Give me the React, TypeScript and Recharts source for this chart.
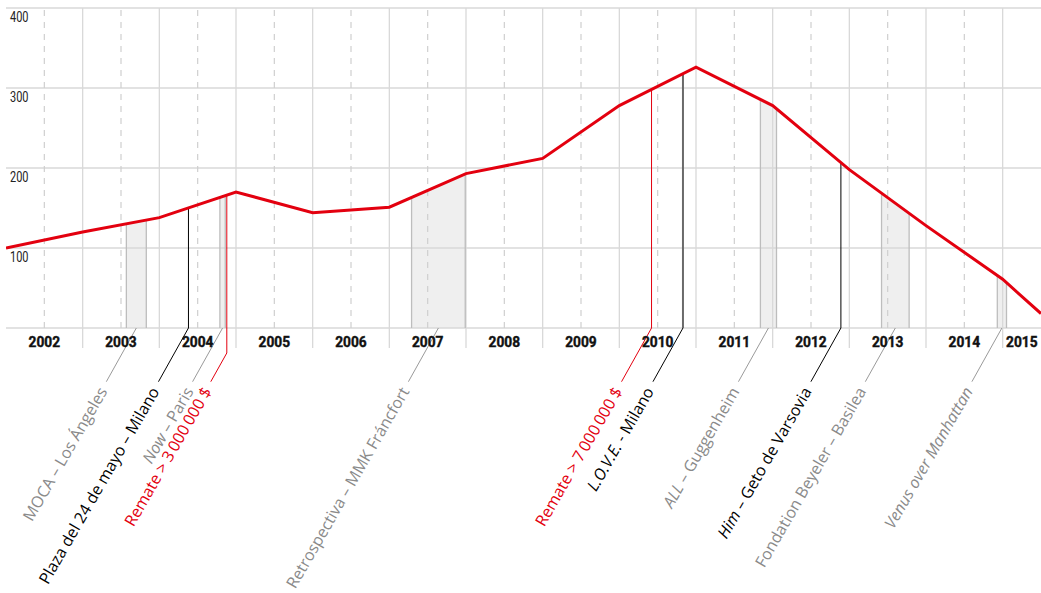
import React from 'react';
import { ComposedChart, Line, Area, XAxis, YAxis, ReferenceLine, ReferenceDot } from 'recharts';

// ---- Data ----
const LINE_YEARS = [2002, 2003, 2004, 2005, 2006, 2007, 2008, 2009, 2010, 2011, 2012, 2013, 2014, 2015, 2015.5];
const LINE_VALUES = [100, 120, 138, 170, 144, 151, 193, 212, 278, 326, 278, 198, 128, 61, 18];

const YEAR_LABELS = ['2002', '2003', '2004', '2005', '2006', '2007', '2008', '2009', '2010', '2011', '2012', '2013', '2014', '2015'];
const Y_TICKS = [100, 200, 300, 400];
const GRID_VALUES = [0, 100, 200, 300, 400];

// exhibitions (periods, shaded)
const EXHIBITION_ITALIC = ['', 'Now', '', 'ALL', '', 'Venus over Manhattan'];
const EXHIBITION_REST = ['MOCA – Los Ángeles', ' – Paris', 'Retrospectiva – MMK Fráncfort', ' – Guggenheim', 'Fondation Beyeler – Basilea', ''];
const EXHIBITION_START = [2003.57, 2004.79, 2007.29, 2011.84, 2013.42, 2014.93];
const EXHIBITION_END = [2003.83, 2004.86, 2007.99, 2012.05, 2013.78, 2015.05];

// single events (black lines)
const EVENT_ITALIC = ['', 'L.O.V.E.', 'Him'];
const EVENT_REST = ['Plaza del 24 de mayo – Milano', ' - Milano', ' – Geto de Varsovia'];
const EVENT_DATES = [2004.38, 2010.83, 2012.89];

// auctions (red lines)
const AUCTION_NAMES = ['Remate > 3\u2009000\u2009000 $', 'Remate > 7\u2009000\u2009000 $'];
const AUCTION_DATES = [2004.88, 2010.42];

// ---- Styles ----
const RED = '#e3000f';
const GRAY_TEXT = '#8a8a8a';
const GRID = '#d9d9d9';
const LABEL_FONT = "'Open Sans', 'Noto Sans', sans-serif";
const AXIS_FONT = "Roboto, 'Liberation Sans', sans-serif";
const DOMAIN_START = 2002;
const DOMAIN_END = 2015.5;
const LEADER_DX = 30;
const LEADER_DY = 53.7;

const lineData = LINE_YEARS.map((x, i) => ({ x, v: LINE_VALUES[i] }));

function lineValueAt(x: number): number {
  for (let i = 0; i < LINE_YEARS.length - 1; i++) {
    const x0 = LINE_YEARS[i];
    const x1 = LINE_YEARS[i + 1];
    if (x >= x0 && x <= x1) {
      const t = (x - x0) / (x1 - x0);
      return LINE_VALUES[i] + t * (LINE_VALUES[i + 1] - LINE_VALUES[i]);
    }
  }
  return LINE_VALUES[LINE_VALUES.length - 1];
}

function periodPoints(start: number, end: number) {
  const pts = [{ x: start, v: lineValueAt(start) }];
  LINE_YEARS.forEach((x, i) => {
    if (x > start && x < end) pts.push({ x, v: LINE_VALUES[i] });
  });
  pts.push({ x: end, v: lineValueAt(end) });
  return pts;
}

const yearTicks = YEAR_LABELS.map((l) => {
  const y = Number(l);
  return Math.min(y + 0.5, (y + DOMAIN_END) / 2);
});
const yearBoundaries = YEAR_LABELS.slice(1).map((l) => Number(l));
const midYears = YEAR_LABELS.map((l) => Number(l) + 0.5).filter((v) => v < DOMAIN_END);

type CalloutProps = {
  cx?: number;
  cy?: number;
  italic: string;
  rest: string;
  color: string;
  lineColor: string;
  drop?: number;
};

function Callout({ cx = 0, cy = 0, italic, rest, color, lineColor, drop = 0 }: CalloutProps) {
  const x1 = cx;
  const y1 = cy + drop;
  const x2 = cx - (LEADER_DY - drop) * (LEADER_DX / LEADER_DY);
  const y2 = cy + LEADER_DY;
  const tx = x2 - 3.8;
  const ty = y2 + 6.6;
  return (
    <g>
      <path d={`M${cx},${cy}L${x1},${y1}L${x2},${y2}`} stroke={lineColor} strokeWidth={1} fill="none" />
      <text
        x={tx}
        y={ty}
        transform={`rotate(-60 ${tx} ${ty})`}
        textAnchor="end"
        dominantBaseline="central"
        fill={color}
        fontSize={16}
        fontFamily={LABEL_FONT}
      >
        {italic ? <tspan fontStyle="italic">{italic}</tspan> : null}
        {rest ? <tspan>{rest}</tspan> : null}
      </text>
    </g>
  );
}

const YearTick = (props: any) => {
  const { x, y, payload } = props;
  return (
    <text
      x={x}
      y={y + 19}
      textAnchor="middle"
      fontFamily={AXIS_FONT}
      fontWeight="bold"
      fontSize={15.5}
      textLength={31.5}
      lengthAdjust="spacingAndGlyphs"
      fill="#111"
      stroke="#111"
      strokeWidth={0.45}
    >
      {String(Math.floor(payload.value))}
    </text>
  );
};

const ValueLabel = (props: any) => {
  const { viewBox, text } = props;
  if (!viewBox) return null;
  return (
    <text
      x={viewBox.x + 4}
      y={viewBox.y + 13.5}
      textAnchor="start"
      fontFamily={AXIS_FONT}
      fontSize={14}
      textLength={18.5}
      lengthAdjust="spacingAndGlyphs"
      fill="#222"
    >
      {text}
    </text>
  );
};

export default function App() {
  return (
    <div style={{ position: 'absolute', left: 0, top: 0, width: 1041, height: 593, background: '#fff' }}>
      <ComposedChart width={1041} height={593} margin={{ top: 8, right: 0, left: 6, bottom: 235 }}>
        <XAxis
          dataKey="x"
          type="number"
          domain={[DOMAIN_START, DOMAIN_END]}
          allowDataOverflow
          ticks={yearTicks}
          interval={0}
          tick={<YearTick />}
          axisLine={false}
          tickLine={false}
          tickSize={0}
          tickMargin={0}
          height={30}
        />
        <YAxis type="number" domain={[0, 400]} ticks={Y_TICKS} hide width={0} />

        {GRID_VALUES.map((v) => (
          <ReferenceLine
            key={`h${v}`}
            y={v}
            stroke={GRID}
            strokeWidth={1.3}
            ifOverflow="visible"
            label={Y_TICKS.includes(v) ? <ValueLabel text={String(v)} /> : undefined}
          />
        ))}
        {midYears.map((v) => (
          <ReferenceLine key={`d${v}`} x={v} stroke="#cfcfcf" strokeWidth={1.2} strokeDasharray="6 6" ifOverflow="visible" />
        ))}
        {yearBoundaries.map((v) => (
          <ReferenceLine
            key={`s${v}`}
            segment={[{ x: v, y: -25 }, { x: v, y: 400 }]}
            stroke={GRID}
            strokeWidth={1.3}
            ifOverflow="visible"
          />
        ))}

        {EXHIBITION_START.map((s, i) => (
          <Area
            key={`ea${i}`}
            data={periodPoints(s, EXHIBITION_END[i])}
            dataKey="v"
            type="linear"
            stroke="none"
            fill="#efefef"
            fillOpacity={1}
            isAnimationActive={false}
            dot={false}
            activeDot={false}
          />
        ))}
        {EXHIBITION_START.map((s, i) => (
          <ReferenceLine
            key={`el${i}`}
            segment={[{ x: s, y: 0 }, { x: s, y: lineValueAt(s) }]}
            stroke="#bdbdbd"
            strokeWidth={1.3}
            ifOverflow="visible"
          />
        ))}
        {EXHIBITION_END.map((s, i) => (
          <ReferenceLine
            key={`er${i}`}
            segment={[{ x: s, y: 0 }, { x: s, y: lineValueAt(s) }]}
            stroke="#bdbdbd"
            strokeWidth={1.3}
            ifOverflow="visible"
          />
        ))}

        {EVENT_DATES.map((d, i) => (
          <ReferenceLine
            key={`ev${i}`}
            segment={[{ x: d, y: 0 }, { x: d, y: lineValueAt(d) }]}
            stroke={i === 1 ? '#6a6a6a' : '#000'}
            strokeWidth={i === 1 ? 2 : 1}
            ifOverflow="visible"
          />
        ))}
        {AUCTION_DATES.map((d, i) => (
          <ReferenceLine
            key={`au${i}`}
            segment={[{ x: d, y: 0 }, { x: d, y: lineValueAt(d) }]}
            stroke={RED}
            strokeWidth={1}
            ifOverflow="visible"
          />
        ))}

        <Line
          data={lineData}
          dataKey="v"
          type="linear"
          stroke={RED}
          strokeWidth={3}
          dot={false}
          activeDot={false}
          isAnimationActive={false}
        />

        {EXHIBITION_START.map((s, i) => (
          <ReferenceDot
            key={`ec${i}`}
            x={(s + EXHIBITION_END[i]) / 2}
            y={0}
            r={0}
            ifOverflow="visible"
            shape={(p: any) => (
              <Callout cx={p.cx} cy={p.cy} italic={EXHIBITION_ITALIC[i]} rest={EXHIBITION_REST[i]} color={GRAY_TEXT} lineColor="#9a9a9a" />
            )}
          />
        ))}
        {EVENT_DATES.map((d, i) => (
          <ReferenceDot
            key={`vc${i}`}
            x={d}
            y={0}
            r={0}
            ifOverflow="visible"
            shape={(p: any) => (
              <Callout cx={p.cx} cy={p.cy} italic={EVENT_ITALIC[i]} rest={EVENT_REST[i]} color="#000" lineColor="#000" />
            )}
          />
        ))}
        {AUCTION_DATES.map((d, i) => (
          <ReferenceDot
            key={`ac${i}`}
            x={d}
            y={0}
            r={0}
            ifOverflow="visible"
            shape={(p: any) => (
              <Callout cx={p.cx} cy={p.cy} italic="" rest={AUCTION_NAMES[i]} color={RED} lineColor={RED} drop={i === 0 ? 25 : 0} />
            )}
          />
        ))}
      </ComposedChart>
    </div>
  );
}
